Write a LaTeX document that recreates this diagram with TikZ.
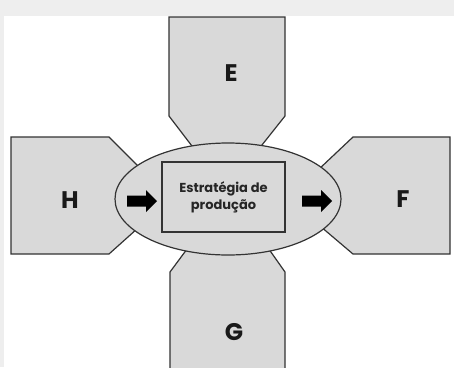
\documentclass[tikz,border=0pt]{standalone}
\usepackage{fontspec}
\setmainfont{Poppins}
\usetikzlibrary{shapes.geometric}
\definecolor{shapefill}{HTML}{D9D9D9}
\definecolor{shapeline}{HTML}{333333}
\definecolor{shadow}{HTML}{EEEEEE}
\tikzset{
  petal/.style={fill=shapefill,draw=shapeline,line width=1.2pt,line join=miter},
  bigletter/.style={font=\bfseries\fontsize{24}{28}\selectfont,text=black!90},
  blockarrow/.style={fill=black,draw=none},
}
\newcommand{\blockarrowat}[1]{%
  \fill[blockarrow] ([shift={(-15,-5.5)}]#1) -- ([shift={(4,-5.5)}]#1) -- ([shift={(4,-11)}]#1) -- ([shift={(15,0)}]#1)
    -- ([shift={(4,11)}]#1) -- ([shift={(4,5.5)}]#1) -- ([shift={(-15,5.5)}]#1) -- cycle;}
\begin{document}
\begin{tikzpicture}[x=1pt,y=-1pt]
\useasboundingbox (0,0) rectangle (454,367);
\fill[white] (0,0) rectangle (454,367);
\fill[shadow] (0,0) rectangle (454,16);
\fill[shadow] (0,16) rectangle (4,367);
\begin{scope}
\clip (0,0) rectangle (454,367);
% E (top)
\draw[petal] (195,150) -- (169,116) -- (169,17) -- (285,17) -- (285,116) -- (258,150);
% G (bottom)
\draw[petal] (190,245) -- (170,272) -- (170,375) -- (285,375) -- (285,272) -- (266,245);
% H (left)
\draw[petal] (140,168) -- (109,137) -- (11,137) -- (11,254) -- (109,254) -- (138,228);
% F (right)
\draw[petal] (318,170) -- (353,137) -- (450,137) -- (450,254) -- (353,254) -- (320,226);
\end{scope}
% center ellipse
\node[ellipse,petal,minimum width=226pt,minimum height=112pt,inner sep=0pt] (core) at (228,199) {};
\node[draw=shapeline,line width=1.2pt,fill=shapefill,minimum width=123pt,minimum height=70pt,inner sep=0pt,align=center,
      font=\bfseries\fontsize{13}{17}\selectfont,text=black!85] (strat) at (223.5,197) {Estratégia de\\produção};
\node[bigletter] (E) at (231,73) {E};
\node[bigletter] (H) at (70,200) {H};
\node[bigletter] (F) at (403,199) {F};
\node[bigletter] (G) at (234,332) {G};
\coordinate (inarrow) at (142,201);
\coordinate (outarrow) at (317,201);
\blockarrowat{inarrow}
\blockarrowat{outarrow}
\end{tikzpicture}
\end{document}
